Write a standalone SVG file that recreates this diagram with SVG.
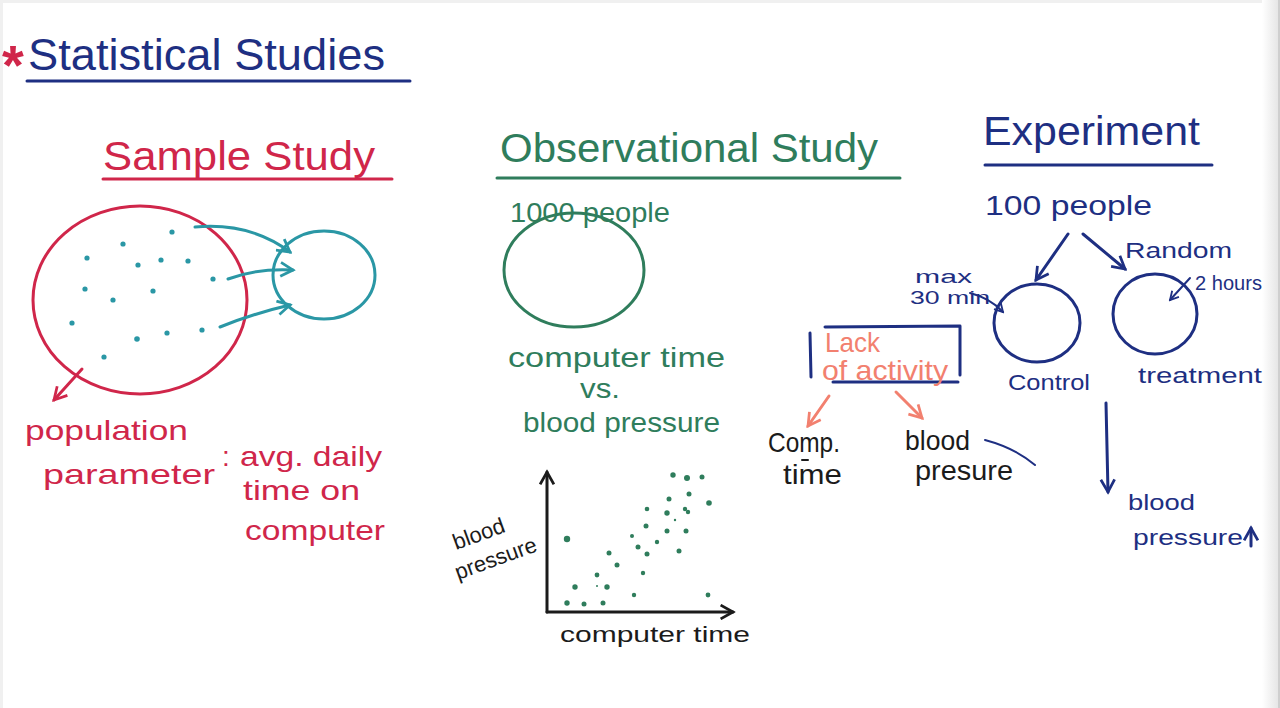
<svg xmlns="http://www.w3.org/2000/svg" width="1280" height="708" viewBox="0 0 1280 708">
<defs>
<style>
text{font-family:"Liberation Sans","DejaVu Sans",sans-serif;}
.red{fill:#d0264a;} .teal{fill:#2a97a5;} .green{fill:#2f7d5c;} .navy{fill:#1e2f82;} .blk{fill:#1b1b1b;} .salmon{fill:#f2806f;}
.sr{stroke:#d0264a;} .st{stroke:#2a97a5;} .sg{stroke:#2f7d5c;} .sn{stroke:#1e2f82;} .sb{stroke:#1b1b1b;} .ss{stroke:#f2806f;}
.ln{fill:none;stroke-width:3;stroke-linecap:round;stroke-linejoin:round;}
.h1{font-size:44px;} .h2{font-size:40px;} .t{font-size:28px;} .s{font-size:22px;}
</style>
<linearGradient id="edge" x1="0" y1="0" x2="1" y2="0"><stop offset="0" stop-color="#ffffff"/><stop offset="1" stop-color="#e6e6e6"/></linearGradient>
<marker id="aT" viewBox="0 0 12 12" refX="10" refY="6" markerWidth="5.5" markerHeight="5.5" orient="auto" markerUnits="strokeWidth"><path d="M1,1 L10,6 L1,11" fill="none" stroke="#2a97a5" stroke-width="2"/></marker>
<marker id="aR" viewBox="0 0 12 12" refX="10" refY="6" markerWidth="5.5" markerHeight="5.5" orient="auto" markerUnits="strokeWidth"><path d="M1,1 L10,6 L1,11" fill="none" stroke="#d0264a" stroke-width="2"/></marker>
<marker id="aB" viewBox="0 0 12 12" refX="10" refY="6" markerWidth="5.5" markerHeight="5.5" orient="auto" markerUnits="strokeWidth"><path d="M1,1 L10,6 L1,11" fill="none" stroke="#1b1b1b" stroke-width="2"/></marker>
<marker id="aS" viewBox="0 0 12 12" refX="10" refY="6" markerWidth="5.5" markerHeight="5.5" orient="auto" markerUnits="strokeWidth"><path d="M1,1 L10,6 L1,11" fill="none" stroke="#f2806f" stroke-width="2"/></marker>
<marker id="aN" viewBox="0 0 12 12" refX="10" refY="6" markerWidth="5.5" markerHeight="5.5" orient="auto" markerUnits="strokeWidth"><path d="M1,1 L10,6 L1,11" fill="none" stroke="#1e2f82" stroke-width="2"/></marker>
</defs>
<rect width="1280" height="708" fill="#ffffff"/>
<rect x="0" y="0" width="1280" height="3" fill="#f0f0f0"/>
<rect x="0" y="0" width="3" height="708" fill="#f0f0f0"/>
<rect x="1262" y="0" width="16" height="708" fill="url(#edge)"/>
<rect x="1278" y="0" width="2" height="708" fill="#cfcfcf"/>

<g id="title">
<text x="2" y="84" class="red" style="font-size:56px;font-weight:bold">*</text>
<text x="28" y="70" class="navy h1" textLength="357" lengthAdjust="spacingAndGlyphs">Statistical Studies</text>
<line x1="27" y1="81" x2="410" y2="81" class="ln sn"/>
</g>

<g id="sample-study">
<text x="103" y="170" class="red h2" textLength="272" lengthAdjust="spacingAndGlyphs">Sample Study</text>
<line x1="103" y1="179" x2="392" y2="179" class="ln sr"/>
</g>

<g id="population">
<ellipse cx="140" cy="300" rx="107" ry="94" class="ln sr"/>
<g class="teal">
<circle cx="172" cy="232" r="2.6"/><circle cx="123" cy="244" r="2.6"/><circle cx="87" cy="258" r="2.6"/>
<circle cx="138" cy="265" r="2.6"/><circle cx="161" cy="260" r="2.6"/><circle cx="188" cy="261" r="2.6"/>
<circle cx="213" cy="279" r="2.6"/><circle cx="85" cy="289" r="2.6"/><circle cx="153" cy="291" r="2.6"/>
<circle cx="113" cy="300" r="2.6"/><circle cx="72" cy="323" r="2.6"/><circle cx="137" cy="339" r="2.8"/>
<circle cx="167" cy="333" r="2.6"/><circle cx="202" cy="330" r="2.6"/><circle cx="104" cy="357" r="2.6"/>
</g>
</g>

<g id="sample">
<ellipse cx="324" cy="275" rx="51" ry="44" class="ln st"/>
</g>

<g id="population-label">
<text x="25" y="440" class="red t" textLength="163" lengthAdjust="spacingAndGlyphs">population</text>
<text x="43" y="484" class="red t" textLength="172" lengthAdjust="spacingAndGlyphs">parameter</text>
<text x="222" y="466" class="red t">:</text>
<text x="240" y="466" class="red t" textLength="142" lengthAdjust="spacingAndGlyphs">avg. daily</text>
<text x="243" y="500" class="red t" textLength="117" lengthAdjust="spacingAndGlyphs">time on</text>
<text x="245" y="540" class="red t" textLength="140" lengthAdjust="spacingAndGlyphs">computer</text>
</g>

<g id="observational-study">
<text x="500" y="162" class="green h2" textLength="378" lengthAdjust="spacingAndGlyphs">Observational Study</text>
<line x1="497" y1="178" x2="900" y2="178" class="ln sg"/>
</g>

<g id="people-1000">
<ellipse cx="574" cy="270" rx="70" ry="57" class="ln sg"/>
<text x="510" y="222" class="green t" textLength="160" lengthAdjust="spacingAndGlyphs">1000 people</text>
</g>

<g id="obs-question">
<text x="508" y="367" class="green t" textLength="217" lengthAdjust="spacingAndGlyphs">computer time</text>
<text x="580" y="398" class="green t" textLength="40" lengthAdjust="spacingAndGlyphs">vs.</text>
<text x="523" y="432" class="green t" textLength="197" lengthAdjust="spacingAndGlyphs">blood pressure</text>
</g>

<g id="scatter-plot">
<line x1="547" y1="612" x2="547" y2="472" class="ln sb" marker-end="url(#aB)"/>
<line x1="547" y1="612" x2="733" y2="612" class="ln sb" marker-end="url(#aB)"/>
<text x="0" y="0" class="blk s" transform="translate(456,550) rotate(-20)">blood</text>
<text x="0" y="0" class="blk s" transform="translate(458,580) rotate(-20)">pressure</text>
<text x="560" y="642" class="blk s" textLength="190" lengthAdjust="spacingAndGlyphs">computer time</text>
<g class="green">
<circle cx="673" cy="475" r="2.7"/><circle cx="687" cy="478" r="3"/><circle cx="702" cy="477" r="2.5"/>
<circle cx="689" cy="494" r="2.5"/><circle cx="669" cy="499" r="2.5"/><circle cx="709" cy="503" r="2.8"/>
<circle cx="647" cy="509" r="2.3"/><circle cx="667" cy="513" r="2.7"/><circle cx="685" cy="509" r="2.2"/>
<circle cx="688" cy="512" r="2.2"/><circle cx="675" cy="520" r="1.2"/><circle cx="646" cy="526" r="2.5"/>
<circle cx="667" cy="531" r="2.5"/><circle cx="686" cy="531" r="2.5"/><circle cx="632" cy="536" r="2"/>
<circle cx="567" cy="539" r="3.2"/><circle cx="657" cy="542" r="2.2"/><circle cx="638" cy="547" r="2.5"/>
<circle cx="609" cy="553" r="2.5"/><circle cx="647" cy="554" r="2.5"/><circle cx="679" cy="551" r="2.5"/>
<circle cx="617" cy="565" r="2.5"/><circle cx="643" cy="573" r="2.2"/><circle cx="597" cy="575" r="2.4"/>
<circle cx="575" cy="587" r="2.7"/><circle cx="607" cy="587" r="2.7"/><circle cx="597" cy="586" r="1"/>
<circle cx="634" cy="595" r="2.2"/><circle cx="708" cy="595" r="2.4"/><circle cx="567" cy="603" r="2.7"/>
<circle cx="584" cy="604" r="2.5"/><circle cx="603" cy="603" r="2.5"/>
</g>
</g>

<g id="lack-of-activity">
<path d="M810,333 L811,377 M825,327 L960,326 L960,375 M833,382 L958,382" class="ln sn"/>
<text x="825" y="352" class="salmon t" textLength="55" lengthAdjust="spacingAndGlyphs">Lack</text>
<text x="822" y="380" class="salmon t" textLength="126" lengthAdjust="spacingAndGlyphs">of activity</text>
</g>

<g id="comp-time">
<text x="768" y="452" class="blk t" textLength="72" lengthAdjust="spacingAndGlyphs">Comp.</text>
<line x1="802" y1="460" x2="808" y2="460" class="ln sb" style="stroke-width:2"/>
<text x="783" y="484" class="blk t" textLength="59" lengthAdjust="spacingAndGlyphs">time</text>
</g>

<g id="blood-pressure-obs">
<text x="905" y="450" class="blk t" textLength="65" lengthAdjust="spacingAndGlyphs">blood</text>
<text x="915" y="480" class="blk t" textLength="98" lengthAdjust="spacingAndGlyphs">presure</text>
</g>

<g id="experiment">
<text x="983" y="145" class="navy h2" textLength="217" lengthAdjust="spacingAndGlyphs">Experiment</text>
<line x1="985" y1="165" x2="1212" y2="165" class="ln sn"/>
</g>

<g id="people-100">
<text x="985" y="215" class="navy t" textLength="167" lengthAdjust="spacingAndGlyphs">100 people</text>
</g>

<g id="random-label">
<text x="1125" y="258" class="navy s" textLength="107" lengthAdjust="spacingAndGlyphs">Random</text>
</g>

<g id="control">
<ellipse cx="1037" cy="323" rx="43" ry="39" class="ln sn"/>
<text x="1008" y="390" class="navy s" textLength="82" lengthAdjust="spacingAndGlyphs">Control</text>
<text x="915" y="283" class="navy" style="font-size:18px" textLength="57" lengthAdjust="spacingAndGlyphs">max</text>
<text x="910" y="304" class="navy" style="font-size:18px" textLength="80" lengthAdjust="spacingAndGlyphs">30 min</text>
</g>

<g id="treatment">
<ellipse cx="1155" cy="314" rx="42" ry="40" class="ln sn"/>
<text x="1138" y="383" class="navy s" textLength="124" lengthAdjust="spacingAndGlyphs">treatment</text>
<text x="1195" y="290" class="navy" style="font-size:20px" textLength="67" lengthAdjust="spacingAndGlyphs">2 hours</text>
</g>

<g id="blood-pressure-exp">
<text x="1128" y="510" class="navy s" textLength="67" lengthAdjust="spacingAndGlyphs">blood</text>
<text x="1133" y="545" class="navy s" textLength="110" lengthAdjust="spacingAndGlyphs">pressure</text>
<line x1="1251" y1="546" x2="1251" y2="528" class="ln sn" marker-end="url(#aN)"/>
</g>

<g id="connectors">
<path d="M195,227 Q250,222 290,252" class="ln st" marker-end="url(#aT)"/>
<path d="M228,279 Q258,268 293,270" class="ln st" marker-end="url(#aT)"/>
<path d="M220,327 Q255,313 290,305" class="ln st" marker-end="url(#aT)"/>
<path d="M82,369 L54,400" class="ln sr" marker-end="url(#aR)"/>
<path d="M829,396 L808,426" class="ln ss" marker-end="url(#aS)"/>
<path d="M896,392 L922,418" class="ln ss" marker-end="url(#aS)"/>
<path d="M985,440 Q1015,448 1035,465" class="ln sn" style="stroke-width:2"/>
<path d="M1068,234 L1036,280" class="ln sn" marker-end="url(#aN)"/>
<path d="M1083,234 L1125,269" class="ln sn" marker-end="url(#aN)"/>
<path d="M970,293 Q990,298 1003,312" class="ln sn" style="stroke-width:2" marker-end="url(#aN)"/>
<path d="M1190,278 L1170,300" class="ln sn" style="stroke-width:2" marker-end="url(#aN)"/>
<path d="M1106,403 L1108,492" class="ln sn" marker-end="url(#aN)"/>
</g>
</svg>
